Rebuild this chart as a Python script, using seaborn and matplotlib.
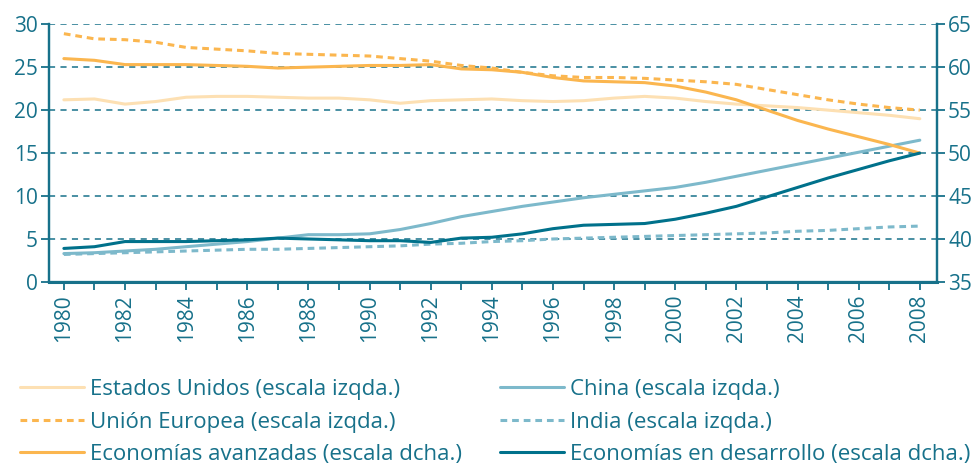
import pandas as pd
import seaborn as sns
import matplotlib.pyplot as plt
from matplotlib.lines import Line2D

years = list(range(1980, 2009))

# left scale (% of world)
estados_unidos = [21.2, 21.3, 20.7, 21.0, 21.5, 21.6, 21.6, 21.5, 21.4, 21.4,
                  21.2, 20.8, 21.1, 21.2, 21.3, 21.1, 21.0, 21.1, 21.4, 21.6,
                  21.4, 21.0, 20.7, 20.5, 20.3, 20.0, 19.7, 19.4, 19.0]
union_europea = [28.9, 28.3, 28.2, 27.9, 27.3, 27.1, 26.9, 26.6, 26.5, 26.4,
                 26.3, 26.0, 25.7, 25.2, 24.9, 24.4, 24.0, 23.8, 23.8, 23.7,
                 23.5, 23.3, 23.0, 22.4, 21.8, 21.2, 20.7, 20.3, 20.0]
china = [3.3, 3.4, 3.6, 3.8, 4.1, 4.4, 4.7, 5.1, 5.5, 5.5,
         5.6, 6.1, 6.8, 7.6, 8.2, 8.8, 9.3, 9.8, 10.2, 10.6,
         11.0, 11.6, 12.3, 13.0, 13.7, 14.4, 15.1, 15.8, 16.5]
india = [3.2, 3.3, 3.4, 3.5, 3.6, 3.7, 3.8, 3.8, 3.9, 4.0,
         4.1, 4.2, 4.4, 4.5, 4.7, 4.8, 5.0, 5.1, 5.2, 5.3,
         5.4, 5.5, 5.6, 5.7, 5.9, 6.0, 6.2, 6.4, 6.5]

# right scale
avanzadas = [61.0, 60.8, 60.3, 60.3, 60.3, 60.2, 60.1, 59.9, 60.0, 60.1,
             60.2, 60.2, 60.3, 59.8, 59.7, 59.4, 58.8, 58.4, 58.3, 58.2,
             57.8, 57.1, 56.2, 55.0, 53.8, 52.8, 51.9, 51.0, 50.0]
desarrollo = [38.9, 39.1, 39.7, 39.7, 39.7, 39.8, 39.9, 40.1, 40.0, 39.9,
              39.8, 39.8, 39.6, 40.1, 40.2, 40.6, 41.2, 41.6, 41.7, 41.8,
              42.3, 43.0, 43.8, 44.9, 46.0, 47.1, 48.1, 49.1, 50.0]

labels_left = ["Estados Unidos (escala izqda.)", "Unión Europea (escala izqda.)",
               "Economías avanzadas (escala dcha.)"]
labels_right = ["China (escala izqda.)", "India (escala izqda.)",
                "Economías en desarrollo (escala dcha.)"]

teal = "#17718a"
c_us = "#fde0b3"
c_orange = "#fbb64f"
c_light_blue = "#7db9cb"
c_dark = "#00718b"
dash = (0, (2.2, 1.6))

sns.set_theme(style="white")
plt.rcParams["font.family"] = ["Open Sans", "DejaVu Sans"]

fig, ax = plt.subplots(figsize=(9.78, 4.66), dpi=100)
fig.subplots_adjust(left=0.050, right=0.958, top=0.948, bottom=0.395)
ax2 = ax.twinx()

lw = 2.2
sns.lineplot(x=years, y=estados_unidos, ax=ax, color=c_us, lw=lw)
sns.lineplot(x=years, y=union_europea, ax=ax, color=c_orange, lw=lw, linestyle=dash)
sns.lineplot(x=years, y=china, ax=ax, color=c_light_blue, lw=lw)
sns.lineplot(x=years, y=india, ax=ax, color=c_light_blue, lw=lw, linestyle=dash)
sns.lineplot(x=years, y=avanzadas, ax=ax2, color=c_orange, lw=lw)
sns.lineplot(x=years, y=desarrollo, ax=ax2, color=c_dark, lw=lw)

ax.set_xlim(1979.51, 2008.56)
ax.set_ylim(0, 30)
ax2.set_ylim(35, 65)
ax.set_yticks(range(0, 31, 5))
ax2.set_yticks(range(35, 66, 5))
ax.set_xticks(years)
ax.set_xticklabels([str(y) if y % 2 == 0 else "" for y in years], rotation=90)

for y in range(5, 31, 5):
    ax.axhline(y, color=teal, lw=1.1, ls=(0, (4, 3.5)), zorder=0)

for a in (ax, ax2):
    a.set_facecolor("none")
    a.grid(False)
    a.spines["top"].set_visible(False)
    for s in ("left", "right", "bottom"):
        a.spines[s].set_color(teal)
        a.spines[s].set_linewidth(1.6)
    a.tick_params(colors=teal, labelsize=15, length=6, width=1.3, direction="out")
ax.spines["bottom"].set_linewidth(2.2)
ax.tick_params(axis="y", left=True, pad=2)
ax.tick_params(axis="x", bottom=True, pad=3)
ax2.tick_params(axis="y", right=True, pad=2)

h_left = [Line2D([], [], color=c_us, lw=lw),
          Line2D([], [], color=c_orange, lw=lw, ls=dash),
          Line2D([], [], color=c_orange, lw=lw)]
h_right = [Line2D([], [], color=c_light_blue, lw=lw),
           Line2D([], [], color=c_light_blue, lw=lw, ls=dash),
           Line2D([], [], color=c_dark, lw=lw)]

legend_kw = dict(loc="upper left", frameon=False, fontsize=16, handlelength=2.9,
                 handletextpad=0.27, labelspacing=0.52, borderaxespad=0, borderpad=0)
for hs, ls, x0 in ((h_left, labels_left, 20), (h_right, labels_right, 500)):
    leg = fig.legend(hs, ls, bbox_to_anchor=(x0 / 978, 1 - 379 / 466), **legend_kw)
    for t in leg.get_texts():
        t.set_color(teal)

fig.savefig("out.png", dpi=100)
